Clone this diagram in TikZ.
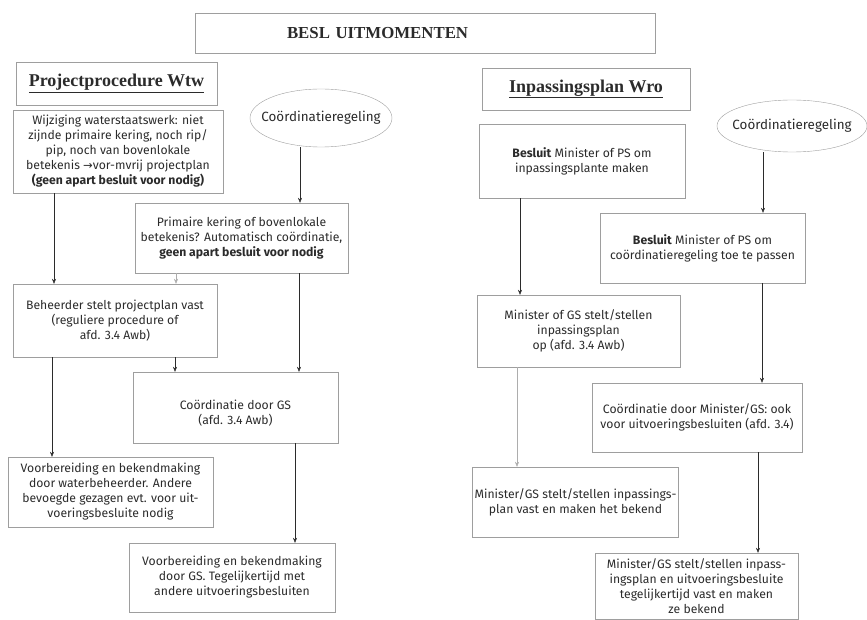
\documentclass[tikz,border=0pt]{standalone}
\usepackage{fontspec}
\setmainfont{Fira Sans}
\newfontfamily\titlefont{Liberation Serif}
\newfontfamily\symfont{DejaVu Sans}
\usetikzlibrary{arrows.meta,shapes.geometric}
\definecolor{boxline}{gray}{0.62}
\definecolor{ink}{gray}{0.17}
\definecolor{lightarr}{gray}{0.68}

\begin{document}
\begin{tikzpicture}[x=1pt,y=-1pt,
  every node/.style={text=ink,font=\fontsize{12.2}{15}\selectfont},
  box/.style={draw=boxline,align=center,inner sep=2pt},
  head/.style={box,font=\titlefont\bfseries\fontsize{18}{20}\selectfont},
  regeling/.style={ellipse,draw=boxline,inner xsep=-12pt,inner ysep=0pt,font=\fontsize{13.4}{15}\selectfont},
  arr/.style={draw=ink,-{Stealth[length=5pt,width=4pt]}},
  greyarr/.style={arr,draw=lightarr}]
 \useasboundingbox (0,0) rectangle (867,620);
 % title
 \node[box,minimum width=460pt,minimum height=40pt,text width=456pt,align=left,
   font=\titlefont\bfseries\fontsize{16.8}{18}\selectfont] (titel) at (425,33)
   {\hspace*{90pt}BESL UITMOMENTEN};
 % left column: Wtw
 \node[head,minimum width=201pt,minimum height=43pt] (wtw) at (116.5,83.5) {\underline{Projectprocedure Wtw}};
 \node[regeling,minimum width=142pt,minimum height=58pt] (coord1) at (321,118) {Coördinatieregeling};
 \node[box,minimum width=210pt,minimum height=83pt] (wijz) at (118,151.5)
   {Wijziging waterstaatswerk: niet\\ zijnde primaire kering, noch rip/\\ pip, noch van bovenlokale\\
    betekenis {\symfont\fontsize{11.5}{15}\selectfont→}vor-mvrij projectplan\\ \textbf{(geen apart besluit voor nodig)}};
 \node[box,minimum width=213pt,minimum height=70pt] (prim) at (241.5,238)
   {Primaire kering of bovenlokale\\ betekenis? Automatisch coördinatie,\\ \textbf{geen apart besluit voor nodig}};
 \node[box,minimum width=204pt,minimum height=73pt] (beh) at (115,320.5)
   {Beheerder stelt projectplan vast\\ (reguliere procedure of\\ afd. 3.4 Awb)};
 \node[box,minimum width=205pt,minimum height=71pt] (gs) at (235.5,407.5)
   {\rule{0pt}{20pt}Coördinatie door GS\\ (afd. 3.4 Awb)};
 \node[box,minimum width=205pt,minimum height=70pt] (voorb1) at (110.5,492)
   {Voorbereiding en bekendmaking\\ door waterbeheerder. Andere\\ bevoegde gezagen evt. voor uit-\\ voeringsbesluite nodig};
 \node[box,minimum width=206pt,minimum height=69pt] (voorb2) at (232,577.5)
   {Voorbereiding en bekendmaking\\ door GS. Tegelijkertijd met\\ andere uitvoeringsbesluiten};
 % right column: Wro
 \node[head,minimum width=208pt,minimum height=42pt] (wro) at (586,89) {\underline{Inpassingsplan Wro}};
 \node[regeling,minimum width=150pt,minimum height=52pt] (coord2) at (792,126) {Coördinatieregeling};
 \node[box,minimum width=206pt,minimum height=74pt] (besl1) at (582,161)
   {\textbf{Besluit} Minister of PS om\\ inpassingsplante maken};
 \node[box,minimum width=205pt,minimum height=70pt] (besl2) at (702.5,248)
   {\textbf{Besluit} Minister of PS om\\ coördinatieregeling toe te passen};
 \node[box,minimum width=203pt,minimum height=72pt] (opst) at (578.5,331)
   {Minister of GS stelt/stellen\\ inpassingsplan\\ op (afd. 3.4 Awb)};
 \node[box,minimum width=210pt,minimum height=69pt] (mings) at (697,417.5)
   {Coördinatie door Minister/GS: ook\\ voor uitvoeringsbesluiten (afd. 3.4)};
 \node[box,minimum width=205pt,minimum height=70pt] (vast1) at (575.5,502)
   {Minister/GS stelt/stellen inpassings-\\ plan vast en maken het bekend};
 \node[box,minimum width=203pt,minimum height=66pt] (vast2) at (696.5,586)
   {Minister/GS stelt/stellen inpass-\\ ingsplan en uitvoeringsbesluite\\ tegelijkertijd vast en maken\\ ze bekend};
 % arrows
 \draw[arr] (coord1.south -| 300,0) -- (prim.north -| 300,0);
 \draw[arr] (wijz.south -| 54,0) -- (beh.north -| 54,0);
 \draw[greyarr] (prim.south -| 176,0) -- (beh.north -| 176,0);
 \draw[arr] (beh.south -| 175,0) -- (gs.north -| 175,0);
 \draw[arr] (prim.south -| 299,0) -- (gs.north -| 299,0);
 \draw[arr] (beh.south -| 52,0) -- (voorb1.north -| 52,0);
 \draw[arr] (gs.south -| 295,0) -- (voorb2.north -| 295,0);
 \draw[arr] (coord2.south -| 763,0) -- (besl2.north -| 763,0);
 \draw[arr] (besl1.south -| 520,0) -- (opst.north -| 520,0);
 \draw[arr] (besl2.south -| 762,0) -- (mings.north -| 762,0);
 \draw[greyarr] (opst.south -| 517,0) -- (vast1.north -| 517,0);
 \draw[arr] (mings.south -| 758,0) -- (vast2.north -| 758,0);
\end{tikzpicture}
\end{document}
